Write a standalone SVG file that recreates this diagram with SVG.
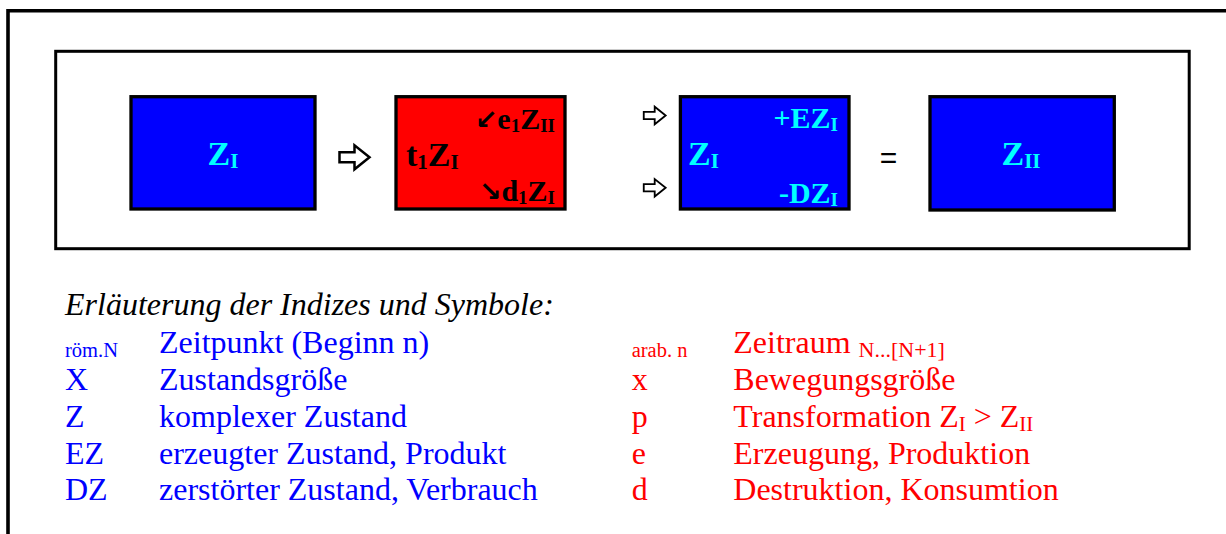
<svg xmlns="http://www.w3.org/2000/svg" width="1226" height="534" viewBox="0 0 1226 534">
  <style>
    .frame { fill: none; stroke: #000; }
    .box { stroke: #000; stroke-width: 3.3; }
    .blue { fill: #0000FF; }
    .red { fill: #FF0000; }
    .bt { font-family: "Liberation Serif", "Times New Roman", serif; font-weight: bold; }
    .big { font-size: 34px; }
    .mid { font-size: 30px; }
    .cy { fill: #00FFFF; }
    .bk { fill: #000; }
    .lg { font-family: "Liberation Serif", "Times New Roman", serif; font-size: 32px; }
    .sm { font-size: 20.5px; }
    .lb { fill: #0000FF; }
    .lr { fill: #FF0000; }
    .arrow { fill: #fff; stroke: #000; stroke-width: 2.5; stroke-linejoin: miter; }
    .diag { font-family: "DejaVu Sans", sans-serif; font-weight: bold; font-size: 27px; }
  </style>
  <defs>
    <path id="hollow-arrow" d="M-15,-5 H0 V-12 L15,0 L0,12 V5 H-15 Z"/>
  </defs>

  <rect width="1226" height="534" fill="#fff"/>

  <!-- outer page frame (open at right and bottom) -->
  <path class="frame" stroke-width="3.6" d="M8,534 V10.7 H1226"/>
  <!-- frame round the equation -->
  <rect class="frame" stroke-width="3" x="55.7" y="51.3" width="1133.5" height="197.4"/>

  <!-- state Z_I -->
  <g id="state-start">
    <rect class="box blue" x="131" y="96.7" width="184" height="112.3"/>
    <text class="bt big cy" x="223" y="165" text-anchor="middle">Z<tspan font-size="21" dy="3">I</tspan></text>
  </g>

  <!-- transformation box -->
  <g id="transformation">
    <rect class="box red" x="396" y="96.7" width="169" height="112.3"/>
    <text class="bt mid bk" x="555" y="129" text-anchor="end"><tspan class="diag">↙</tspan>e<tspan font-size="19" dy="3">1</tspan><tspan dy="-3">Z</tspan><tspan font-size="19" dy="3">II</tspan></text>
    <text class="bt big bk" x="406" y="166">t<tspan font-size="21" dy="3">1</tspan><tspan dy="-3">Z</tspan><tspan font-size="21" dy="3">I</tspan></text>
    <text class="bt mid bk" x="555" y="201" text-anchor="end"><tspan class="diag">↘</tspan>d<tspan font-size="19" dy="3">1</tspan><tspan dy="-3">Z</tspan><tspan font-size="19" dy="3">I</tspan></text>
  </g>

  <!-- balance box -->
  <g id="balance">
    <rect class="box blue" x="680.4" y="96.7" width="168.6" height="112.3"/>
    <text class="bt mid cy" x="838" y="128" text-anchor="end">+EZ<tspan font-size="19" dy="3">I</tspan></text>
    <text class="bt big cy" x="688" y="165">Z<tspan font-size="21" dy="3">I</tspan></text>
    <text class="bt mid cy" x="838" y="202.5" text-anchor="end">-DZ<tspan font-size="19" dy="3">I</tspan></text>
  </g>

  <!-- state Z_II -->
  <g id="state-end">
    <rect class="box blue" x="930" y="96.7" width="184.3" height="113.3"/>
    <text class="bt big cy" x="1021" y="165" text-anchor="middle">Z<tspan font-size="21" dy="3">II</tspan></text>
  </g>

  <!-- arrows and equals sign -->
  <g id="connectors">
    <use href="#hollow-arrow" class="arrow" transform="translate(354.5 157.3)"/>
    <use href="#hollow-arrow" class="arrow" transform="translate(654.7 115.5) scale(0.73)"/>
    <use href="#hollow-arrow" class="arrow" transform="translate(654.7 187.8) scale(0.73)"/>
    <text font-family="Liberation Sans, Arial, sans-serif" font-size="30" x="888.5" y="167.5" text-anchor="middle">=</text>
  </g>

  <!-- legend -->
  <g id="legend" class="lg">
    <text font-style="italic" fill="#000" x="65" y="315">Erläuterung der Indizes und Symbole:</text>

    <text class="lb sm" x="65" y="356.7">röm.N</text>
    <text class="lb" x="159" y="353.3">Zeitpunkt (Beginn n)</text>
    <text class="lb" x="65" y="390">X</text>
    <text class="lb" x="159" y="390">Zustandsgröße</text>
    <text class="lb" x="65" y="427">Z</text>
    <text class="lb" x="159" y="427">komplexer Zustand</text>
    <text class="lb" x="65" y="463.5">EZ</text>
    <text class="lb" x="159" y="463.5">erzeugter Zustand, Produkt</text>
    <text class="lb" x="65" y="500">DZ</text>
    <text class="lb" x="159" y="500">zerstörter Zustand, Verbrauch</text>

    <text class="lr sm" x="631.7" y="356.7">arab. n</text>
    <text class="lr" x="733.3" y="353.3">Zeitraum <tspan font-size="22" dy="4">N...[N+1]</tspan></text>
    <text class="lr" x="631.7" y="390">x</text>
    <text class="lr" x="733.3" y="390">Bewegungsgröße</text>
    <text class="lr" x="631.7" y="427">p</text>
    <text class="lr" x="733.3" y="427">Transformation Z<tspan font-size="21" dy="4">I</tspan><tspan dy="-4"> &gt; Z</tspan><tspan font-size="21" dy="4">II</tspan></text>
    <text class="lr" x="631.7" y="463.5">e</text>
    <text class="lr" x="733.3" y="463.5">Erzeugung, Produktion</text>
    <text class="lr" x="631.7" y="500">d</text>
    <text class="lr" x="733.3" y="500">Destruktion, Konsumtion</text>
  </g>
</svg>
